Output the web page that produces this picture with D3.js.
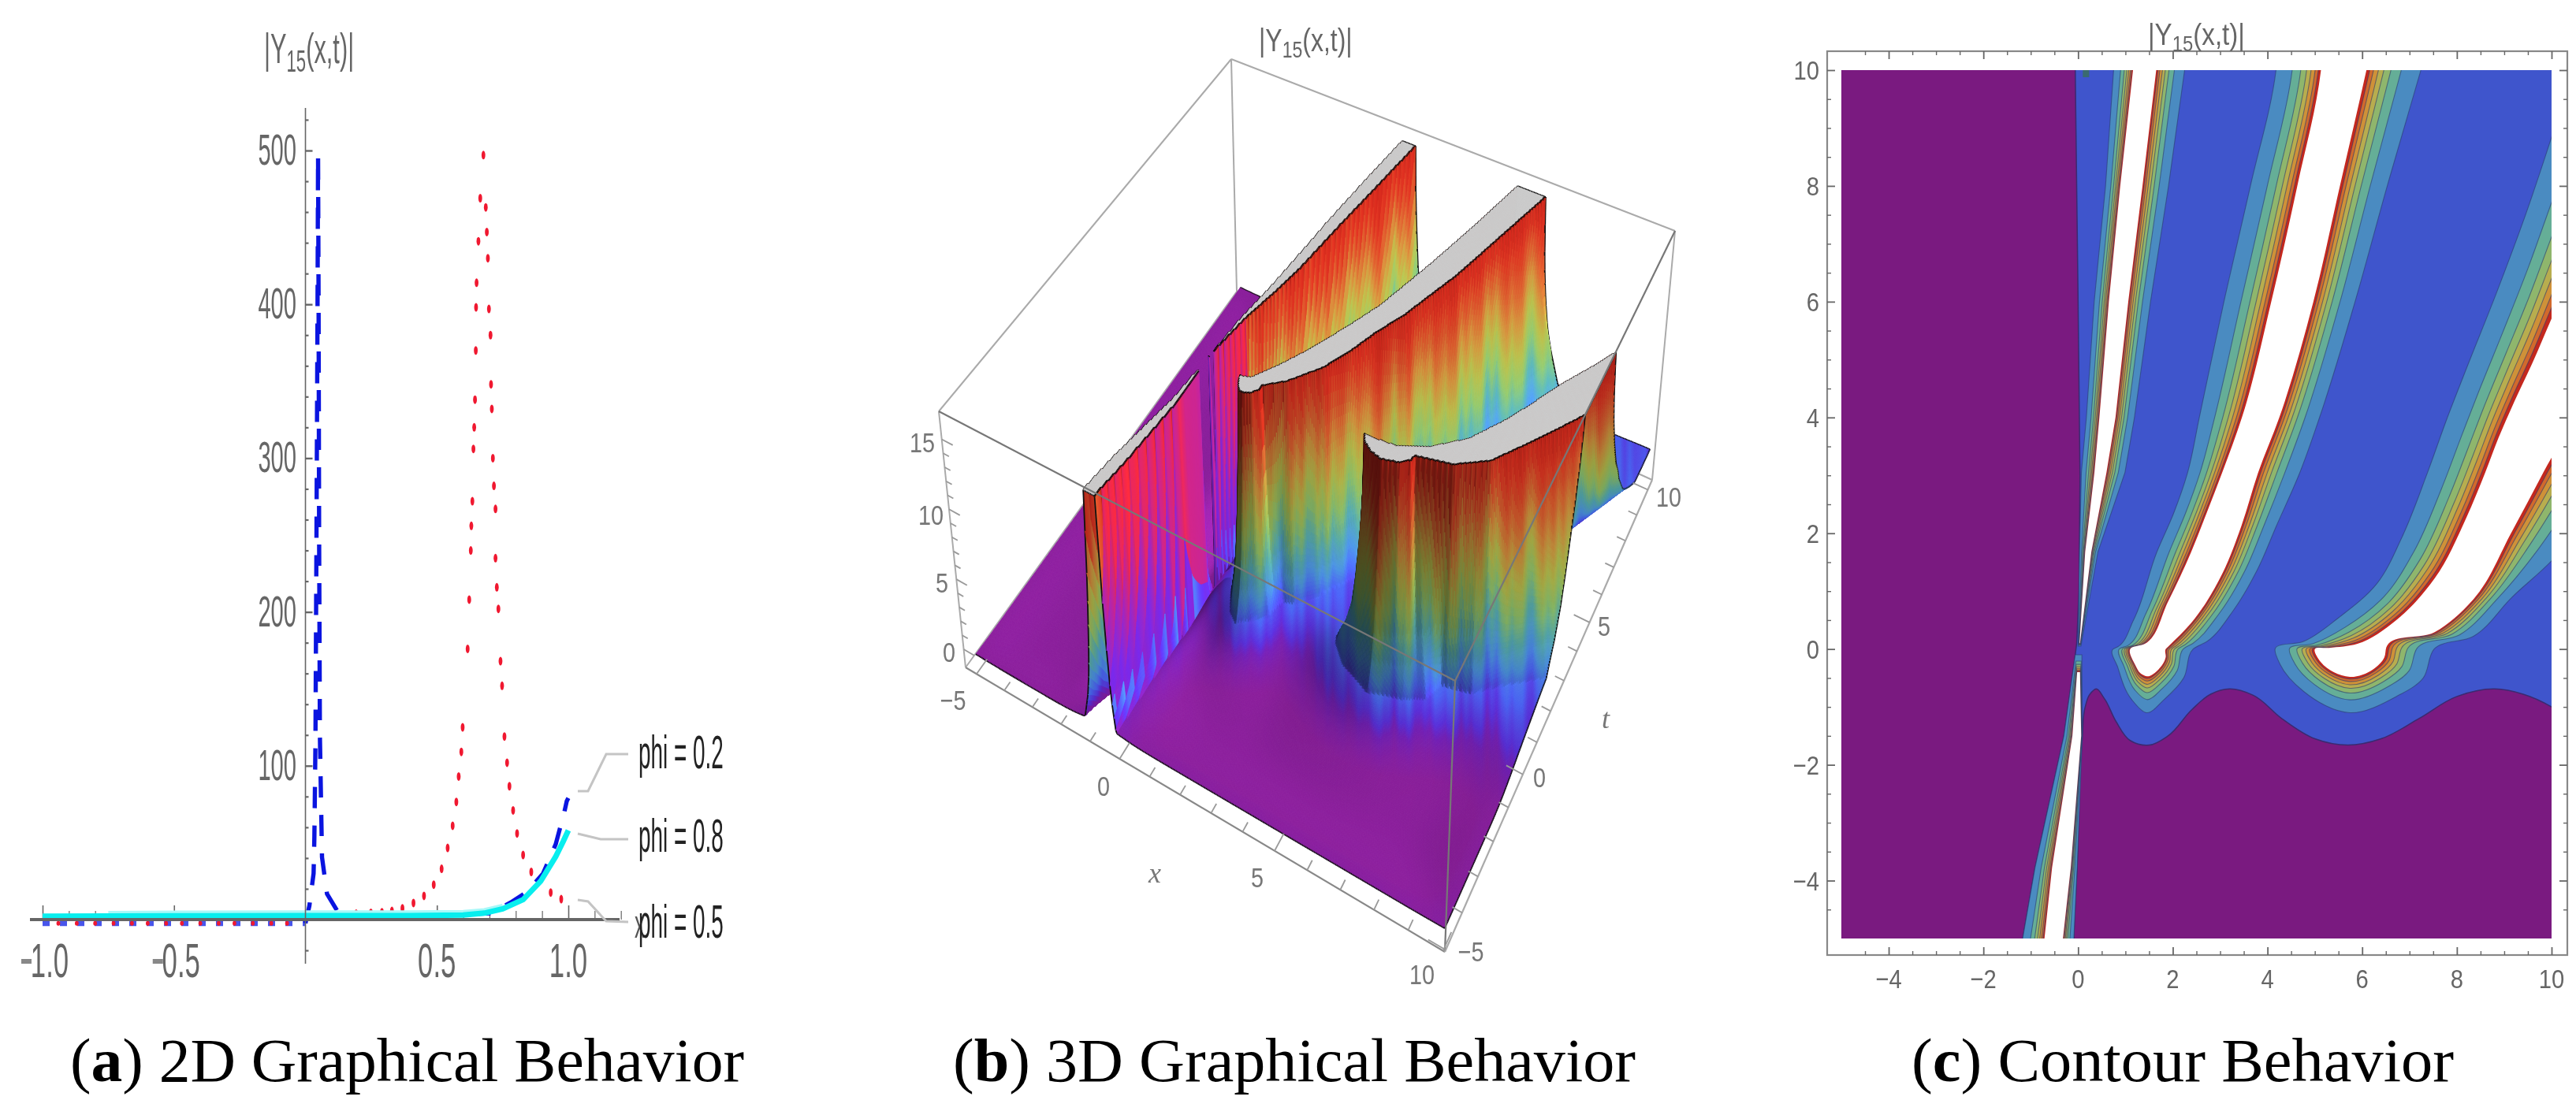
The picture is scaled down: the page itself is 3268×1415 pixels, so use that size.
<!DOCTYPE html>
<html><head><meta charset="utf-8">
<style>html,body{margin:0;padding:0;background:#fff;width:3268px;height:1415px;overflow:hidden}
canvas,svg{position:absolute;left:0;top:0}</style>
<script src="https://cdn.jsdelivr.net/npm/d3@7"></script>
</head><body>
<canvas id="surf" width="3268" height="1415"></canvas>
<svg id="chart" width="3268" height="1415" xmlns="http://www.w3.org/2000/svg"></svg>
<script>
// ---------- Panel (a) data ----------
const blueNeg = [[-1,-2.4],[0,-2.4]];
const bluePeak = [[0,-2.4],[.015,9],[.031,30],[.034,54],[.038,114],[.042,250],[.046,400],[.048,497],[.05,400],[.052,250],[.055,119],[.063,40.6],[.082,16.7],[.124,4.8],[.2,3],[.5,3],[.7,4],[.78,11],[.843,18],[.904,30],[.952,49],[.985,70],[.994,77],[1,79]];
const redDots = [[.677,497],[.665,469],[.658,441],[.651,414],[.649,398],[.648,370],[.645,338],[.642,320],[.639,306],[.635,272],[.631,256],[.629,240],[.623,208],[.617,176],[.598,125],[.593,109],[.583,93],[.574,76.5],[.56,61],[.541,46.6],[.518,33],[.488,22.7],[.451,15.4],[.411,10.8],[.369,7.3],[.329,5.6],[.291,4.8],[.249,4.4],[.193,3.9],
 [.686,463],[.69,447],[.694,430],[.698,397],[.704,380],[.706,348],[.709,332],[.713,300],[.717,282],[.723,267],[.723,235],[.728,216],[.734,202],[.742,168],[.748,152],[.757,119],[.767,102],[.776,86.7],[.79,71],[.805,56],[.828,42],[.859,31],[.933,17.6],[.973,13.3],
 [-.94,-2.4],[-.87,-2.4],[-.8,-2.4],[-.73,-2.4],[-.66,-2.4],[-.6,-2.4],[-.53,-2.4],[-.47,-2.4],[-.4,-2.4],[-.33,-2.4],[-.27,-2.4],[-.2,-2.4],[-.13,-2.4],[-.07,-2.4]];
const cyanLine = [[-1,2.2],[-.5,2.4],[0,2.5],[.4,2.6],[.6,3],[.68,4.2],[.75,7],[.828,13],[.895,25],[.952,41],[.981,51],[1,58]];
const cyanHalo = [[-.75,4.4],[-.5,4.6],[0,4.7],[.4,4.8],[.6,5],[.68,6.2],[.75,9]];
const aXMajor = [-1,-.5,0,.5,1];
const aXMinor = [-.9,-.8,-.7,-.6,-.4,-.3,-.2,-.1,.1,.2,.3,.4,.6,.7,.8,.9,1.1,1.2];
const aYMajor = [100,200,300,400,500];
const aYMinor = [-20,20,40,60,80,120,140,160,180,220,240,260,280,320,340,360,380,420,440,460,480,520];
const phiLabels = ["phi = 0.2","phi = 0.8","phi = 0.5"];

// ---------- Panel (c) contour outlines, in (x,t) data ----------
const negOuter=[[-1.26,-5.5],[-1.17,-5],[-.91,-3.78],[-.3,-1.5],[-.06,-.1],[.08,-.1],[.09,-1.5],[-.02,-3.78],[-.09,-5],[-.1,-5.5]];
const negCore=[[-.78,-5.5],[-.71,-5],[-.55,-3.78],[-.12,-1.5],[-.02,-.4],[.04,-.4],[.065,-1.5],[-.155,-3.78],[-.32,-5],[-.36,-5.5]];
const r0Outer=[[0,.05],[.03,1.68],[.07,3.05],[.175,4],[.34,6],[.58,8],[.75,10],[.81,10.6],[2.32,10.6],[2.25,10],[1.91,8],[1.53,6],[1.19,4],[.99,3.05],[.42,1.68],[.06,.05]];
const r0Core=[[.03,.1],[.15,1.68],[.345,3.05],[.45,4],[.65,6],[.89,8],[1.16,10],[1.2,10.6],[1.7,10.6],[1.65,10],[1.36,8],[1.06,6],[.79,4],[.6,3.05],[.28,1.68],[.04,.1]];
const r1Outer=[[4.25,10.6],[4.18,10],[3.64,8],[3.08,6],[2.56,4],[2.31,3.04],[2.02,2.35],[1.66,1.67],[1.17,.5],[.84,.04],[.74,0],[.84,-.32],[1.13,-.87],[1.45,-1.1],[1.82,-.87],[2.23,-.5],[2.43,0],[2.72,.13],[3.29,.68],[3.78,1.36],[4.19,2.13],[4.68,3.04],[5.1,4],[5.85,6],[6.53,8],[7.24,10],[7.45,10.6]];
const r1Core=[[5.2,10.6],[5.13,10],[4.63,8],[4.08,6],[3.46,4],[3.04,3.04],[2.72,2.36],[2.39,1.68],[1.9,.82],[1.41,.09],[1.1,0],[1.21,-.28],[1.32,-.42],[1.45,-.47],[1.7,-.35],[1.85,-.14],[1.85,0],[1.9,.04],[2.39,.45],[3.05,1.31],[3.45,2.13],[3.8,3.04],[4.25,4],[4.97,6],[5.53,8],[6.09,10],[6.25,10.6]];
const r2Outer=[[10.5,10.1],[10,8.84],[9.45,7.5],[8.84,6.16],[8.18,4.8],[7.8,4],[7.38,3.05],[6.85,1.95],[6.31,1.13],[5.5,.54],[4.76,.13],[4.16,0],[4.27,-.27],[4.76,-.73],[5.74,-1.1],[6.72,-.82],[7.29,-.5],[7.52,0],[8.35,.22],[9.17,.9],[10.02,1.54],[10.6,2.1],[11.2,2.7]];
const r2Core=[[10.5,6.6],[10,5.71],[9.6,4.95],[9.2,4.25],[8.88,3.65],[8.6,3.05],[8.2,2.27],[7.53,1.22],[6.72,.5],[5.9,.09],[5.3,.02],[5,0],[5.13,-.23],[5.4,-.4],[5.74,-.48],[6.23,-.35],[6.47,-.14],[6.51,.03],[7.53,.29],[8.35,.86],[9.17,2.04],[9.82,3.04],[10.6,4.3]];
const purpleLeft=[[-5.5,10.5],[-.06,10.5],[-.06,10],[0,6],[.04,3],[.02,1],[-.03,.1],[-.06,-.1],[-.3,-1.5],[-.91,-3.78],[-1.17,-5],[-1.26,-5.5],[-5.5,-5.5]];
const purpleBottom=[[-.1,-5.5],[-.09,-5],[-.02,-3.78],[.09,-1.5],[.15,-1],[.25,-.78],[.38,-.69],[.55,-.85],[.8,-1.25],[1.1,-1.58],[1.5,-1.66],[1.9,-1.5],[2.4,-1.05],[2.8,-.78],[3.2,-.69],[3.7,-.8],[4.3,-1.2],[5,-1.55],[5.7,-1.66],[6.4,-1.55],[7.2,-1.2],[8,-.82],[8.8,-.69],[9.4,-.78],[10,-1],[10.5,-1.3],[10.5,-5.5]];
const ridgeList=[[negOuter,negCore],[r0Outer,r0Core],[r1Outer,r1Core],[r2Outer,r2Core]];
const levelFractions=[0,.36,.55,.68,.78,.87,.94];
const levelColors=["#4a8bc1","#65ae97","#8fb66c","#b8ad4e","#cf9138","#d2692c","#c4281e"];
const cXTicks=[-4,-2,0,2,4,6,8,10];
const cYTicks=[-4,-2,0,2,4,6,8,10];
const cMinor=[-4.5,-3.5,-3,-2.5,-1.5,-1,-.5,.5,1,1.5,2.5,3,3.5,4.5,5,5.5,6.5,7,7.5,8.5,9,9.5];

// ---------- Panel (b) surface settings ----------
const levelHeights=[2.6,4.4,6,8,10,12,14,16.6];
const zTop=16.6;
const heightStops=[0,.7,1.1,2,3.2,5,7,9,11,13,15,16.6];
const heightColors=["#8a1f9b","#7420b8","#5a30dc","#4a62f0","#4a90dc","#54a6a6","#86b664","#a8ae46","#c08a3a","#c85a2c","#c9301f","#b82018"];
const streakOffsets=[0,1.5,-1,2.5,.5,-2,1,3,-.5,1.8,-1.5,.5,2.8,-1,1.2,-2.2,.8,2.2,-.8,1.6,3.2,0,-1.6,1.4,2.4,-.6,.6,-2,1.9,.2,2.9,-1.2];
const xyTicks=[-5,0,5,10];

const svg=d3.select("#chart");
const GRAY="#666";
function label(g,str,x,y,size,sx,opt={}){
  return g.append("text").attr("transform",`translate(${x},${y}) scale(${sx},1)`)
   .attr("font-family","Liberation Sans, Arial, sans-serif").attr("font-size",size)
   .attr("fill",opt.fill||GRAY).attr("text-anchor",opt.anchor||"start").text(str);
}
function title(x,y,size,sx){
  const t=label(svg,"",x,y,size,sx);
  t.append("tspan").text("|Y");
  t.append("tspan").attr("font-size",size*.72).attr("dy",size*.2).text("15");
  t.append("tspan").attr("dy",-size*.2).text("(x,t)|");
}
function caption(letter,rest,x1,x2,y){
  const t=svg.append("text").attr("x",x1).attr("y",y).attr("textLength",x2-x1).attr("lengthAdjust","spacingAndGlyphs")
    .attr("font-family","Liberation Serif, serif").attr("font-size",78).attr("fill","#000");
  t.append("tspan").text("(");
  t.append("tspan").attr("font-weight","bold").text(letter);
  t.append("tspan").text(") "+rest);
}

// ================= Panel (a) =================
const ax=d3.scaleLinear().domain([-1,1]).range([54,721]);
const ay=d3.scaleLinear().domain([0,500]).range([1167,191]);
const aLine=d3.line().x(d=>ax(d[0])).y(d=>ay(d[1]));
const pa=svg.append("g");
function axisStyle(g,w){g.selectAll("line").attr("stroke",GRAY).attr("stroke-width",w);g.selectAll("text").remove();g.select(".domain").remove();}
pa.append("g").attr("transform",`translate(0,${ay(0)})`).call(d3.axisBottom(ax).tickValues(aXMajor.filter(d=>d!==0)).tickSize(-18)).call(axisStyle,1.6);
pa.append("g").attr("transform",`translate(0,${ay(0)})`).call(d3.axisBottom(ax).tickValues(aXMinor).tickSize(-11)).call(axisStyle,1.2);
pa.append("g").attr("transform",`translate(${ax(0)},0)`).call(d3.axisRight(ay).tickValues(aYMajor).tickSize(9)).call(axisStyle,2.4);
pa.append("g").attr("transform",`translate(${ax(0)},0)`).call(d3.axisRight(ay).tickValues(aYMinor).tickSize(4)).call(axisStyle,2.2);
pa.append("path").attr("d",aLine(blueNeg)).attr("fill","none").attr("stroke","#1a2ae6").attr("stroke-width",7).attr("stroke-dasharray","9 13").attr("opacity",.8);
pa.append("path").attr("d",aLine(bluePeak)).attr("fill","none").attr("stroke","#0a14e0").attr("stroke-width",5.4).attr("stroke-dasharray","27 22");
pa.selectAll("ellipse.red").data(redDots).join("ellipse").attr("class","red").attr("cx",d=>ax(d[0])).attr("cy",d=>ay(d[1])).attr("rx",2.4).attr("ry",d=>d[1]<0?3:5.5).attr("fill","#f01830");
pa.append("path").attr("d",aLine(cyanHalo)).attr("fill","none").attr("stroke","#a8f8f8").attr("stroke-width",5);
pa.append("path").attr("d",aLine(cyanLine)).attr("fill","none").attr("stroke","#08eeee").attr("stroke-width",7);
pa.append("line").attr("x1",38).attr("x2",786).attr("y1",ay(0)).attr("y2",ay(0)).attr("stroke",GRAY).attr("stroke-width",4);
pa.append("line").attr("x1",ax(0)).attr("x2",ax(0)).attr("y1",137).attr("y2",1223).attr("stroke",GRAY).attr("stroke-width",1.6);
aYMajor.forEach(v=>label(pa,v,376,ay(v)+18,56,.52,{anchor:"end"}));
aXMajor.filter(d=>d).forEach(v=>{
  const s=d3.format(".1f")(Math.abs(v));
  if(v<0){pa.append("rect").attr("x",ax(v)-27).attr("y",1217).attr("width",13).attr("height",6).attr("fill","#888");}
  label(pa,s,ax(v)+(v<0?9:0),1240,62,.56,{anchor:"middle"});
});
title(335,80,54,.57);
[[[733,1004],[746,1004],[769,957],[797,957]],[[733,1058],[762,1065],[797,1065]],[[733,1142],[746,1144],[769,1169],[797,1170]]].forEach(p=>
  pa.append("path").attr("d",d3.line()(p)).attr("fill","none").attr("stroke","#c4c4c4").attr("stroke-width",3));
label(pa,"x",805,1190,52,.5,{fill:"#555"});
phiLabels.forEach((s,i)=>label(pa,s,810,[975,1081,1190][i],60,.465,{fill:"#222"}));
caption("a","2D Graphical Behavior",89,944,1372);

// ================= Panel (c) =================
const cx=d3.scaleLinear().domain([-5,10]).range([2336,3237]);
const cy=d3.scaleLinear().domain([-5,10]).range([1191,89]);
const pc=svg.append("g");
svg.append("defs").append("clipPath").attr("id","clipC").append("rect").attr("x",cx(-5)).attr("y",cy(10)).attr("width",cx(10)-cx(-5)).attr("height",cy(-5)-cy(10));
const plot=pc.append("g").attr("clip-path","url(#clipC)");
plot.append("rect").attr("x",cx(-5)).attr("y",cy(10)).attr("width",cx(10)-cx(-5)).attr("height",cy(-5)-cy(10)).attr("fill","#3f55cc");
const closedCurve=d3.line().x(d=>cx(d[0])).y(d=>cy(d[1])).curve(d3.curveCatmullRomClosed.alpha(1));
const closedStraight=d3.line().x(d=>cx(d[0])).y(d=>cy(d[1])).curve(d3.curveLinearClosed);
const EDGE="#2b3a70";
[purpleLeft,purpleBottom].forEach((p,i)=>plot.append("path").attr("d",(i?closedCurve:closedStraight)(p)).attr("fill","#7a1a80").attr("stroke","#3b2a70").attr("stroke-width",1.5));
ridgeList.forEach(([outer,core],r)=>{
  const gen=r<2?closedStraight:closedCurve;
  levelFractions.forEach((f,i)=>{
    const pts=outer.map((p,k)=>[p[0]+(core[k][0]-p[0])*f,p[1]+(core[k][1]-p[1])*f]);
    plot.append("path").attr("d",gen(pts)).attr("fill",levelColors[i]).attr("stroke",EDGE).attr("stroke-opacity",.6).attr("stroke-width",1.1);
  });
  plot.append("path").attr("d",gen(core)).attr("fill","#fff");
});
plot.append("rect").attr("x",cx(0)+6).attr("y",cy(10)).attr("width",8).attr("height",9).attr("fill","#3a6a70");
const fL=2318,fR=3257,fT=65,fB=1212;
pc.append("rect").attr("x",fL).attr("y",fT).attr("width",fR-fL).attr("height",fB-fT).attr("fill","none").attr("stroke","#888").attr("stroke-width",2.2);
function tickSet(vals,len,w){
  pc.append("g").attr("transform",`translate(0,${fB})`).call(d3.axisBottom(cx).tickValues(vals).tickSize(-len)).call(axisStyle,w);
  pc.append("g").attr("transform",`translate(0,${fT})`).call(d3.axisTop(cx).tickValues(vals).tickSize(-len)).call(axisStyle,w);
  pc.append("g").attr("transform",`translate(${fL},0)`).call(d3.axisLeft(cy).tickValues(vals).tickSize(-len)).call(axisStyle,w);
  pc.append("g").attr("transform",`translate(${fR},0)`).call(d3.axisRight(cy).tickValues(vals).tickSize(-len)).call(axisStyle,w);
}
tickSet(cXTicks,10,1.8);tickSet(cMinor,5,1.4);
const fmtC=v=>v<0?"\u2212"+(-v):String(v);
cXTicks.forEach(v=>label(pc,fmtC(v),cx(v),1254,34,.86,{anchor:"middle"}));
cYTicks.forEach(v=>label(pc,fmtC(v),2308,cy(v)+12,34,.86,{anchor:"end"}));
title(2725,57,39,.85);
caption("c","Contour Behavior",2425,3113,1372);

// ================= Panel (b) =================
const boxX=d3.scaleLinear().domain([-5.4,10.05]).range([0,1]);
const boxT=d3.scaleLinear().domain([-5.05,10.4]).range([0,1]);
const boxZ=d3.scaleLinear().domain([-1.3,17]).range([0,1]);
const cornersBottom=[[1225,847],[1833,1208],[2096,609],[1569,370]];
const cornersTop=[[1191,522],[1846,864],[2125,293],[1562,75]];
function homography(q){
  const [[x0,y0],[x1,y1],[x2,y2],[x3,y3]]=q;
  const dx1=x1-x2,dx2=x3-x2,sx=x0-x1+x2-x3,dy1=y1-y2,dy2=y3-y2,sy=y0-y1+y2-y3;
  const den=dx1*dy2-dx2*dy1,g=(sx*dy2-dx2*sy)/den,h=(dx1*sy-sx*dy1)/den;
  const a=x1-x0+g*x1,b=x3-x0+h*x3,d=y1-y0+g*y1,e=y3-y0+h*y3;
  return (u,v)=>{const w=g*u+h*v+1;return [(a*u+b*v+x0)/w,(d*u+e*v+y0)/w];};
}
const H0=homography(cornersBottom),H1=homography(cornersTop);
function proj(x,t,z){
  const u=boxX(x),v=boxT(t),w=boxZ(z),p=H0(u,v),q=H1(u,v);
  return [p[0]+(q[0]-p[0])*w,p[1]+(q[1]-p[1])*w];
}
function dist(px,py,poly){
  let m=1e9;
  for(let i=0,n=poly.length;i<n;i++){
    const a=poly[i],b=poly[(i+1)%n],vx=b[0]-a[0],vy=b[1]-a[1];
    let s=((px-a[0])*vx+(py-a[1])*vy)/(vx*vx+vy*vy||1);s=s<0?0:s>1?1:s;
    const dx=px-a[0]-s*vx,dy=py-a[1]-s*vy,d=dx*dx+dy*dy;if(d<m)m=d;
  }
  return Math.sqrt(m);
}
const fScale=d3.scaleLinear().domain(levelFractions.concat([1])).range(levelHeights).clamp(true);
function field(x,t){
  const P=[x,t];
  for(const [o,c] of ridgeList) if(d3.polygonContains(c,P)) return zTop;
  for(const [o,c] of ridgeList) if(d3.polygonContains(o,P)){
    const a=dist(x,t,o),b=dist(x,t,c);return fScale(a/(a+b));
  }
  const inLeft=d3.polygonContains(purpleLeft,P),inBot=d3.polygonContains(purpleBottom,P);
  if(inLeft){return 1.2*Math.exp(-dist(x,t,purpleLeft)/.5);}
  if(inBot){return 1.3*Math.exp(-dist(x,t,purpleBottom)/2.3);}
  const dp=Math.min(dist(x,t,purpleLeft),dist(x,t,purpleBottom));
  let dO=1e9;for(const [o,c] of ridgeList){dO=Math.min(dO,dist(x,t,o));}
  return 1.3+1.3*dp/(dp+dO);
}
const N=420,xs=d3.range(N+1).map(i=>-5+15*i/N),ts=d3.range(N+1).map(i=>-5+15*i/N);
const Zraw=xs.map(x=>ts.map(t=>field(x,t)));
// soften the low ground so that the valley floor has no creases
const LOW=2.8,R=9;
let low=Zraw.map(c=>Float64Array.from(c,z=>Math.min(z,LOW)));
for(let pass=0;pass<3;pass++){
  const a=low.map(c=>c.slice());
  for(let i=0;i<=N;i++){let s=0;for(let j=-R;j<=N+R;j++){
    s+=a[i][Math.min(N,Math.max(0,j+R))];if(j-R-1>=-R)s-=a[i][Math.min(N,Math.max(0,j-R-1))];
    if(j>=0&&j<=N)low[i][j]=s/(2*R+1);}}
  const b=low.map(c=>c.slice());
  for(let j=0;j<=N;j++){let s=0;for(let i=-R;i<=N+R;i++){
    s+=b[Math.min(N,Math.max(0,i+R))][j];if(i-R-1>=-R)s-=b[Math.min(N,Math.max(0,i-R-1))][j];
    if(i>=0&&i<=N)low[i][j]=s/(2*R+1);}}
}
const Z=Zraw.map((c,i)=>c.map((z,j)=>z>=zTop?zTop:low[i][j]+Math.max(0,z-LOW)));
const heightColor=d3.scaleLinear().domain(heightStops).range(heightColors).clamp(true);
const steepColor=d3.scaleLinear().domain([0,4,9,14,16.6]).range(["#8a1f9b","#6a24d0","#a8208e","#d8243e","#ee2c30"]).clamp(true);
const ctx=document.getElementById("surf").getContext("2d");
function boxLine(g,a,b,col,w){g.append("line").attr("x1",a[0]).attr("y1",a[1]).attr("x2",b[0]).attr("y2",b[1]).attr("stroke",col).attr("stroke-width",w);}
function ctxLine(a,b,col,w){ctx.beginPath();ctx.moveTo(a[0],a[1]);ctx.lineTo(b[0],b[1]);ctx.strokeStyle=col;ctx.lineWidth=w;ctx.stroke();}
const [A,B,C,D]=cornersBottom,[A1,B1,C1,D1]=cornersTop;
[[A1,D1],[D1,C1],[D1,D],[A,D],[D,C],[C,C1],[A,A1]].forEach(([a,b])=>ctxLine(a,b,"#aaa",2));
const L=(()=>{const v=[.75,.35,.5],n=Math.hypot(...v);return v.map(d=>d/n);})();
const Vw=(()=>{const v=[.42,-.55,.72],n=Math.hypot(...v);return v.map(d=>d/n);})();
const zRatio=.38,h=15/N;
function lookup(u){
  const n=streakOffsets.length,pos=((u%n)+n)%n,i=Math.floor(pos),f=pos-i;
  return streakOffsets[i]*(1-f)+streakOffsets[(i+1)%n]*f;
}
function streak(sx,z){
  const win=Math.sin(Math.PI*Math.min(1,z/zTop));
  return (lookup(sx/17)*.7+lookup(sx/6.5+11)*.55)*win;
}
for(let i=0;i<N;i++){
  for(let j=N-1;j>=0;j--){
    const z00=Z[i][j],z10=Z[i+1][j],z11=Z[i+1][j+1],z01=Z[i][j+1];
    const p=[proj(xs[i],ts[j],z00),proj(xs[i+1],ts[j],z10),proj(xs[i+1],ts[j+1],z11),proj(xs[i],ts[j+1],z01)];
    const zz=[z00,z10,z11,z01],cap=zz.map(z=>z>=zTop),capped=cap.filter(Boolean).length;
    const zm=(z00+z10+z11+z01)/4;
    let col;
    if(capped===4) col="#cbcbcb";
    else{
      const gx=-(z10+z11-z00-z01)/(2*h)*zRatio,gt=-(z01+z11-z00-z10)/(2*h)*zRatio,nn=Math.hypot(gx,gt,1);
      const dL=(gx*L[0]+gt*L[1]+L[2])/nn,dV=(gx*Vw[0]+gt*Vw[1]+Vw[2])/nn;
      const sx=p[0][0];
      let s=1+.6*(dL-L[2]);s=Math.max(.45,Math.min(1.25,s));
      const underside=xs[i]<-.3&&ts[j]<-2.5;
      if(gt>0||underside) s=Math.max(s,.92);
      else s*=Math.max(.32,Math.min(1,.4+dV/.18));
      const mid=xs[i]<.7&&ts[j]<1.7&&xs[i]>-.32&&zm>2;
      const c=d3.rgb(mid?steepColor(zm+streak(sx,zm)*.6):heightColor(zm+streak(sx,zm)));
      col=`rgb(${Math.min(255,c.r*s)},${Math.min(255,c.g*s)},${Math.min(255,c.b*s)})`;
    }
    ctx.beginPath();ctx.moveTo(p[0][0],p[0][1]);for(let k=1;k<4;k++)ctx.lineTo(p[k][0],p[k][1]);ctx.closePath();
    ctx.fillStyle=col;ctx.strokeStyle=col;ctx.lineWidth=.9;ctx.fill();ctx.stroke();
    if(capped>0&&capped<4){
      ctx.strokeStyle="#0a0a0a";ctx.lineWidth=2.4;
      for(let k=0;k<4;k++){const q=(k+1)%4;if(cap[k]&&cap[q]){ctx.beginPath();ctx.moveTo(p[k][0],p[k][1]);ctx.lineTo(p[q][0],p[q][1]);ctx.stroke();}}
    }
    if(j===N-1||i===N-1||j===0){
      ctx.strokeStyle="#111";ctx.lineWidth=1.8;
      if(j===N-1){ctx.beginPath();ctx.moveTo(p[2][0],p[2][1]);ctx.lineTo(p[3][0],p[3][1]);ctx.stroke();}
      if(j===0){ctx.beginPath();ctx.moveTo(p[0][0],p[0][1]);ctx.lineTo(p[1][0],p[1][1]);ctx.stroke();}
      if(i===N-1){ctx.beginPath();ctx.moveTo(p[1][0],p[1][1]);ctx.lineTo(p[2][0],p[2][1]);ctx.stroke();}
    }
  }
}
const pb=svg.append("g");
[[A1,B1],[B1,C1],[B1,B]].forEach(([a,b])=>boxLine(pb,a,b,"#777",2.2));
boxLine(pb,A,B,"#888",2.2);boxLine(pb,B,C,"#aaa",2.2);
const bZmin=-1.3,bXe=-5.4,bTe=-5.05,bXf=10.05;
d3.range(-5,10.5,1).forEach(v=>{
  const M=xyTicks.includes(v);
  boxLine(pb,proj(v,bTe,bZmin),proj(v,bTe+(M?.5:.28),bZmin),"#999",1.8);
  boxLine(pb,proj(bXf,v,bZmin),proj(bXf-(M?.5:.28),v,bZmin),"#999",1.8);
});
d3.range(0,16).forEach(v=>boxLine(pb,proj(bXe,bTe,v),proj(bXe+(v%5?.2:.38),bTe,v),"#999",1.8));
[["\u22125",1209,901],["0",1204,840],["5",1195,752],["10",1181,666],["15",1170,574]].forEach(([s,x,y])=>label(pb,s,x,y,36,.8,{anchor:"middle",fill:"#777"}));
[["0",1400,1010],["5",1595,1126],["10",1804,1249],["\u22125",1866,1220],["0",1953,999],["5",2035,807],["10",2117,643]].forEach(([s,x,y])=>label(pb,s,x,y,36,.8,{anchor:"middle",fill:"#777"}));
pb.append("text").attr("x",1465).attr("y",1120).attr("text-anchor","middle").attr("font-family","Liberation Serif, serif").attr("font-style","italic").attr("font-size",36).attr("fill","#777").text("x");
pb.append("text").attr("x",2037).attr("y",924).attr("text-anchor","middle").attr("font-family","Liberation Serif, serif").attr("font-style","italic").attr("font-size",36).attr("fill","#777").text("t");
title(1597,65,40,.8);
caption("b","3D Graphical Behavior",1209,2075,1372);
</script>
</body></html>
